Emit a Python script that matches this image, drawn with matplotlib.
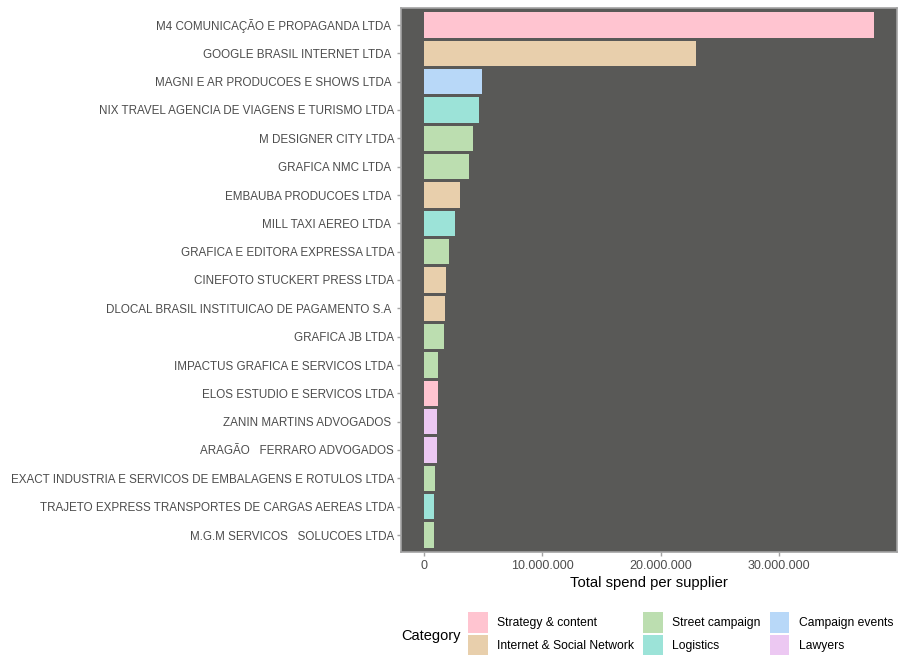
import matplotlib.pyplot as plt
from matplotlib.patches import Patch
from matplotlib.ticker import FuncFormatter

plt.rcParams['font.family'] = ['Liberation Sans', 'DejaVu Sans']

# Suppliers, top to bottom as in the chart
suppliers = [
    'M4 COMUNICAÇÃO E PROPAGANDA LTDA ',
    'GOOGLE BRASIL INTERNET LTDA ',
    'MAGNI E AR PRODUCOES E SHOWS LTDA ',
    'NIX TRAVEL AGENCIA DE VIAGENS E TURISMO LTDA',
    'M DESIGNER CITY LTDA',
    'GRAFICA NMC LTDA ',
    'EMBAUBA PRODUCOES LTDA ',
    'MILL TAXI AEREO LTDA ',
    'GRAFICA E EDITORA EXPRESSA LTDA',
    'CINEFOTO STUCKERT PRESS LTDA',
    'DLOCAL BRASIL INSTITUICAO DE PAGAMENTO S.A ',
    'GRAFICA JB LTDA',
    'IMPACTUS GRAFICA E SERVICOS LTDA',
    'ELOS ESTUDIO E SERVICOS LTDA',
    'ZANIN MARTINS ADVOGADOS ',
    'ARAGÃO   FERRARO ADVOGADOS',
    'EXACT INDUSTRIA E SERVICOS DE EMBALAGENS E ROTULOS LTDA',
    'TRAJETO EXPRESS TRANSPORTES DE CARGAS AEREAS LTDA',
    'M.G.M SERVICOS   SOLUCOES LTDA',
]
spend = [38030000, 23010000, 4950000, 4700000, 4190000, 3800000, 3100000,
         2670000, 2170000, 1920000, 1830000, 1750000, 1240000, 1240000,
         1160000, 1160000, 990000, 900000, 900000]
category = ['Strategy & content', 'Internet & Social Network', 'Campaign events',
            'Logistics', 'Street campaign', 'Street campaign', 'Internet & Social Network',
            'Logistics', 'Street campaign', 'Internet & Social Network',
            'Internet & Social Network', 'Street campaign', 'Street campaign',
            'Strategy & content', 'Lawyers', 'Lawyers', 'Street campaign',
            'Logistics', 'Street campaign']

categories = ['Strategy & content', 'Internet & Social Network', 'Street campaign',
              'Logistics', 'Campaign events', 'Lawyers']
colors = {
    'Strategy & content': '#FFC4D0',
    'Internet & Social Network': '#E8CFAC',
    'Street campaign': '#BCDEB0',
    'Logistics': '#9CE3D8',
    'Campaign events': '#B8D8F8',
    'Lawyers': '#ECC8F2',
}

fig = plt.figure(figsize=(9.05, 6.72), dpi=100)
ax = fig.add_axes([401 / 905, 1 - 552 / 672, (897 - 401) / 905, (552 - 8) / 672])

n = len(suppliers)
ypos = [n - 1 - i for i in range(n)]
ax.barh(ypos, spend, height=0.9, color=[colors[c] for c in category])

ax.set_facecolor('#595957')
for s in ax.spines.values():
    s.set_color('#A3A3A3')
    s.set_linewidth(1.2)

xmax = max(spend)
ax.set_xlim(-0.05 * xmax, 1.05 * xmax)
ax.set_ylim(-0.6, n - 0.4)
ax.set_yticks(ypos)
ax.set_yticklabels(suppliers)
ax.set_xticks([0, 10000000, 20000000, 30000000])
ax.xaxis.set_major_formatter(FuncFormatter(lambda v, p: f'{int(v):,}'.replace(',', '.')))
ax.tick_params(axis='both', colors='#A3A3A3', labelcolor='#4D4D4D', labelsize=9,
               length=3, width=1, pad=2)
ax.tick_params(axis='y', labelsize=8.4)
ax.tick_params(axis='x', pad=3)
ax.set_xlabel('Total spend per supplier', fontsize=10.6, color='black', labelpad=3)

handles = [Patch(facecolor=colors[c], edgecolor='none', label=c) for c in categories]
fig.legend(handles=handles, ncol=3, loc='upper left', bbox_to_anchor=(462 / 905, 1 - 606 / 672),
           frameon=False, fontsize=8.7, handlelength=1.65, handleheight=2.25,
           handletextpad=0.75, columnspacing=0.75, labelspacing=0.16, borderpad=0)
fig.text(401 / 905, 1 - 636 / 672, 'Category', fontsize=10.5, va='center', ha='left')

fig.savefig('out.png', dpi=100, facecolor='white')
